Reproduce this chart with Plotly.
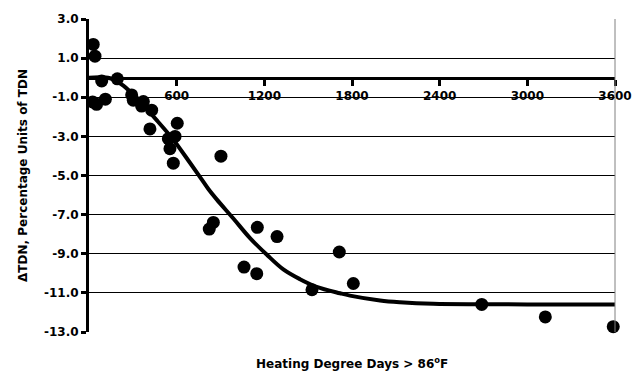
import plotly.graph_objects as go

# Observed data points (Heating degree days, delta TDN)
hdd = [29, 41, 87, 194, 25, 52, 112, 292, 303, 372, 360, 429, 417, 604, 589, 543,
       554, 577, 903, 851, 823, 1152, 1287, 1061, 1148, 1713, 1809, 1526, 2688, 3123, 3588]
dtdn = [1.7, 1.1, -0.17, -0.06, -1.24, -1.36, -1.1, -0.88, -1.15, -1.22, -1.45, -1.66,
        -2.62, -2.33, -3.0, -3.12, -3.63, -4.37, -4.01, -7.4, -7.74, -7.65, -8.12,
        -9.68, -10.02, -8.91, -10.52, -10.84, -11.59, -12.23, -12.73]

# Fitted curve
fit_x = [0, 144, 235, 349, 463, 577, 691, 760, 817, 874, 988, 1102, 1216, 1330, 1444,
         1558, 1718, 1786, 1992, 2128, 2356, 2700, 3000, 3600]
fit_y = [0, -0.03, -0.41, -1.24, -2.17, -3.17, -4.35, -5.08, -5.69, -6.22, -7.2, -8.2,
         -9.04, -9.8, -10.3, -10.69, -11.02, -11.14, -11.39, -11.48, -11.56, -11.58,
         -11.59, -11.6]

y_ticks = [3, 1, -1, -3, -5, -7, -9, -11, -13]
y_labels = ["3.0", "1.0", "-1.0", "-3.0", "-5.0", "-7.0", "-9.0", "-11.0", "-13.0"]
x_ticks = [600, 1200, 1800, 2400, 3000, 3600]
x_labels = ["600", "1200", "1800", "2400", "3000", "3600"]

FONT = "DejaVu Sans"

fig = go.Figure()
fig.add_trace(go.Scatter(x=hdd, y=dtdn, mode="markers",
                         marker=dict(color="black", size=13),
                         cliponaxis=False, showlegend=False))
fig.add_trace(go.Scatter(x=fit_x, y=fit_y, mode="lines",
                         line=dict(color="black", width=4, shape="spline", smoothing=1.0),
                         showlegend=False))

ymin, ymax = -13, 3
fig.update_layout(
    width=644, height=373,
    margin=dict(l=89, r=29, t=14, b=41),
    paper_bgcolor="white", plot_bgcolor="white",
    font=dict(family=FONT, color="black"),
    xaxis=dict(range=[0, 3600], tickvals=x_ticks, ticktext=x_labels,
               showgrid=False, zeroline=False,
               showline=True, linecolor="black", linewidth=3,
               ticks="outside", ticklen=6, tickwidth=3, tickcolor="black",
               tickfont=dict(family=FONT, size=12, weight="bold", color="black"),
               anchor="free", position=(0 - ymin) / (ymax - ymin)),
    yaxis=dict(range=[ymin, ymax], tickvals=y_ticks, ticktext=y_labels,
               showgrid=True, gridcolor="black", gridwidth=1, zeroline=False,
               showline=True, linecolor="black", linewidth=3,
               ticks="outside", ticklen=5, tickwidth=3, tickcolor="black",
               tickfont=dict(family=FONT, size=12, weight="bold", color="black"),
               title=dict(text="ΔTDN, Percentage Units of TDN",
                          font=dict(family=FONT, size=12, weight="bold"),
                          standoff=14)),
)
fig.add_shape(type="line", xref="paper", yref="paper", x0=1, x1=1, y0=0, y1=1,
              line=dict(color="#808080", width=1))
fig.add_annotation(text="Heating Degree Days > 86<sup>o</sup>F", xref="paper", yref="paper",
                   x=0.5, y=-0.1, yanchor="middle", showarrow=False,
                   font=dict(family=FONT, size=12, weight="bold", color="black"))

fig.write_html("out.html")
